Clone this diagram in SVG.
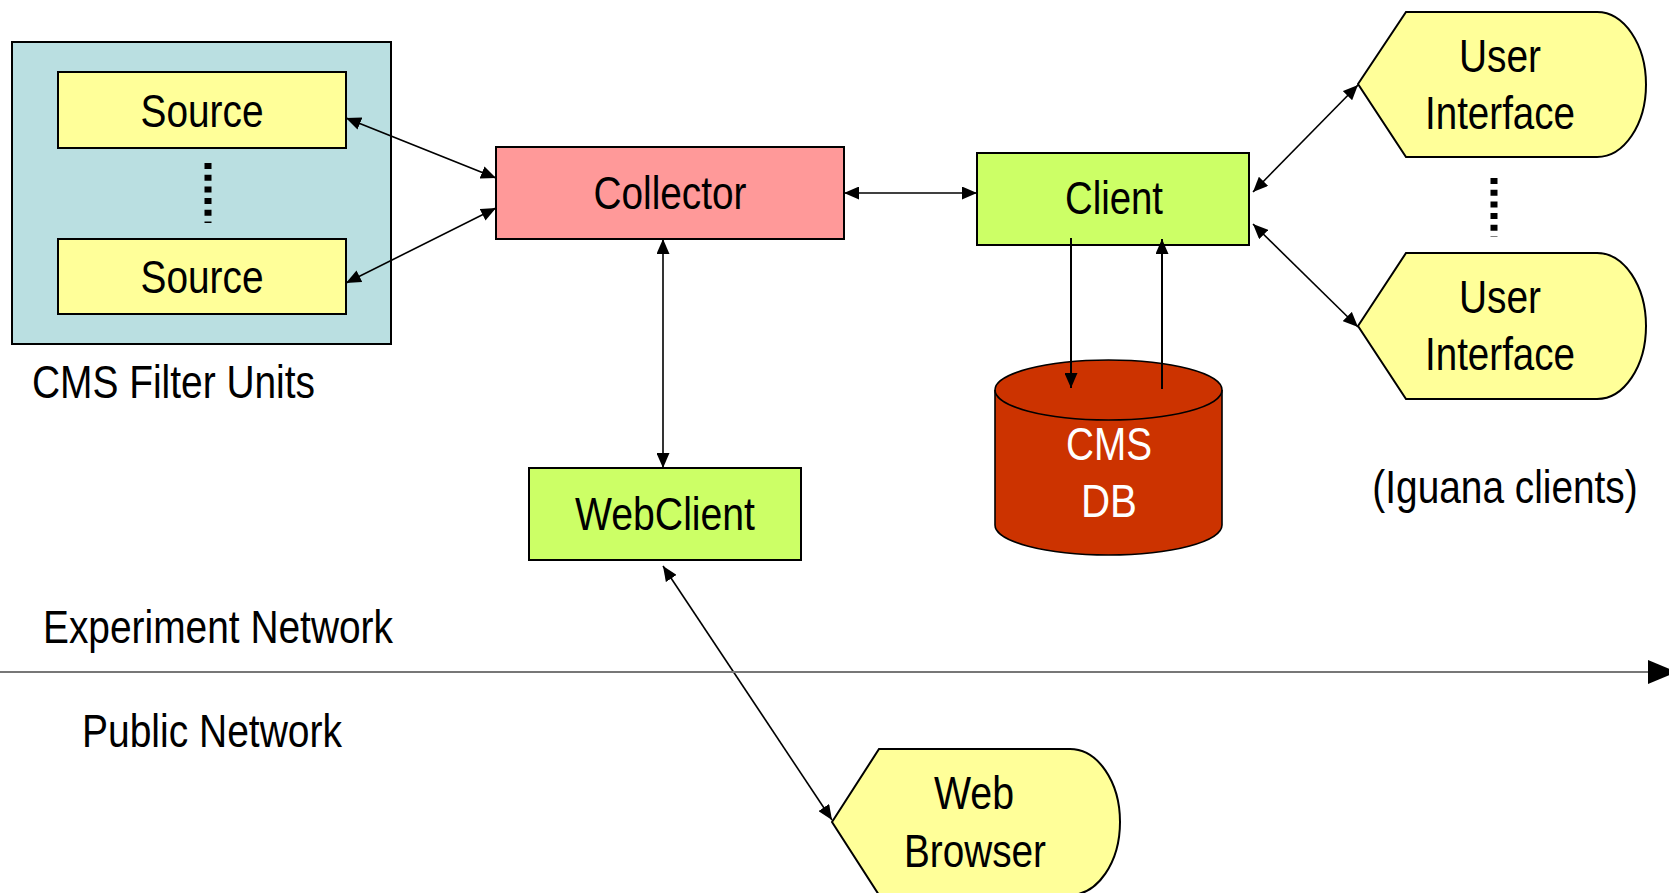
<svg xmlns="http://www.w3.org/2000/svg" width="1669" height="893" viewBox="0 0 1669 893">
<style>
text{font-family:"Liberation Sans",Arial,Helvetica,sans-serif;font-size:46px;fill:#000}
.c{text-anchor:middle}
.box{stroke:#000;stroke-width:2}
.conn{stroke:#000;stroke-width:1.6;fill:none;marker-start:url(#ah);marker-end:url(#ah)}
.one{stroke:#000;stroke-width:2;fill:none;marker-end:url(#ah)}
.yel{fill:#FFFF99}
.dots{stroke:#000;stroke-width:7;stroke-dasharray:6 5.7}
.w{fill:#fff}
</style>
<defs>
<marker id="ah" viewBox="0 0 15 13" refX="15" refY="6.5" markerWidth="15" markerHeight="13" markerUnits="userSpaceOnUse" orient="auto-start-reverse">
<path d="M0,0 L15,6.5 L0,13 z" fill="#000"/>
</marker>
</defs>
<rect width="1669" height="893" fill="#fff"/>

<g id="filter-units">
<rect class="box" x="12" y="42" width="379" height="302" fill="#BADFE1"/>
<line class="dots" x1="208" y1="163" x2="208" y2="223"/>
<text x="32" y="398" textLength="283" lengthAdjust="spacingAndGlyphs">CMS Filter Units</text>
</g>
<g id="source1">
<rect class="box yel" x="58" y="72" width="288" height="76"/>
<text class="c" x="202" y="127" textLength="123" lengthAdjust="spacingAndGlyphs">Source</text>
</g>
<g id="source2">
<rect class="box yel" x="58" y="239" width="288" height="75"/>
<text class="c" x="202" y="293" textLength="123" lengthAdjust="spacingAndGlyphs">Source</text>
</g>
<g id="collector">
<rect class="box" x="496" y="147" width="348" height="92" fill="#FF9999"/>
<text class="c" x="670" y="209" textLength="153" lengthAdjust="spacingAndGlyphs">Collector</text>
</g>
<g id="client">
<rect class="box" x="977" y="153" width="272" height="92" fill="#CCFF66"/>
<text class="c" x="1114" y="214" textLength="98" lengthAdjust="spacingAndGlyphs">Client</text>
</g>
<g id="webclient">
<rect class="box" x="529" y="468" width="272" height="92" fill="#CCFF66"/>
<text class="c" x="665" y="530" textLength="180" lengthAdjust="spacingAndGlyphs">WebClient</text>
</g>
<g id="cms-db">
<path d="M995,390 L995,525 A113.5,30 0 0 0 1222,525 L1222,390 A113.5,30 0 0 0 995,390 Z" fill="#CC3300" stroke="#000" stroke-width="1.6"/>
<path d="M995,390 A113.5,30 0 0 0 1222,390" fill="none" stroke="#000" stroke-width="1.6"/>
<text class="c w" x="1109" y="460" textLength="86" lengthAdjust="spacingAndGlyphs">CMS</text>
<text class="c w" x="1109" y="517" textLength="56" lengthAdjust="spacingAndGlyphs">DB</text>
</g>
<g id="ui1">
<path class="box yel" d="M1358,84 L1406,12 L1597,12 A49,72.5 0 0 1 1597,157 L1406,157 Z"/>
<text class="c" x="1500" y="72" textLength="82" lengthAdjust="spacingAndGlyphs">User</text>
<text class="c" x="1500" y="129" textLength="150" lengthAdjust="spacingAndGlyphs">Interface</text>
</g>
<g id="ui-dots">
<line class="dots" x1="1494" y1="178" x2="1494" y2="237"/>
</g>
<g id="ui2">
<path class="box yel" d="M1358,326 L1406,253 L1597,253 A49,73 0 0 1 1597,399 L1406,399 Z"/>
<text class="c" x="1500" y="313" textLength="82" lengthAdjust="spacingAndGlyphs">User</text>
<text class="c" x="1500" y="370" textLength="150" lengthAdjust="spacingAndGlyphs">Interface</text>
</g>
<g id="iguana-label">
<text class="c" transform="translate(1505,503) scale(0.844,1)" x="0" y="0">(Iguana clients)</text>
</g>
<g id="web-browser">
<path class="box yel" d="M832,822 L879,749 L1070,749 A50,73 0 0 1 1070,895 L879,895 Z"/>
<text class="c" x="974" y="809" textLength="80" lengthAdjust="spacingAndGlyphs">Web</text>
<text class="c" x="975" y="867" textLength="142" lengthAdjust="spacingAndGlyphs">Browser</text>
</g>
<g id="network-labels">
<text x="43" y="643" textLength="350" lengthAdjust="spacingAndGlyphs">Experiment Network</text>
<text x="82" y="747" textLength="260" lengthAdjust="spacingAndGlyphs">Public Network</text>
</g>

<g id="connectors">
<line class="conn" x1="346" y1="118" x2="496" y2="178"/>
<line class="conn" x1="346" y1="283" x2="496" y2="208"/>
<line class="conn" x1="844" y1="193" x2="977" y2="193"/>
<line class="conn" x1="663" y1="239" x2="663" y2="468"/>
<line class="one" x1="1071" y1="238" x2="1071" y2="388"/>
<line class="one" x1="1162" y1="389" x2="1162" y2="239"/>
<line class="conn" x1="1253" y1="192" x2="1358" y2="85"/>
<line class="conn" x1="1253" y1="224" x2="1358" y2="327"/>
<line class="conn" x1="663" y1="566" x2="832" y2="820"/>
<line x1="0" y1="672" x2="1650" y2="672" stroke="#777" stroke-width="2"/>
<polygon points="1648,660 1677,672 1648,684" fill="#000"/>
</g>
</svg>
